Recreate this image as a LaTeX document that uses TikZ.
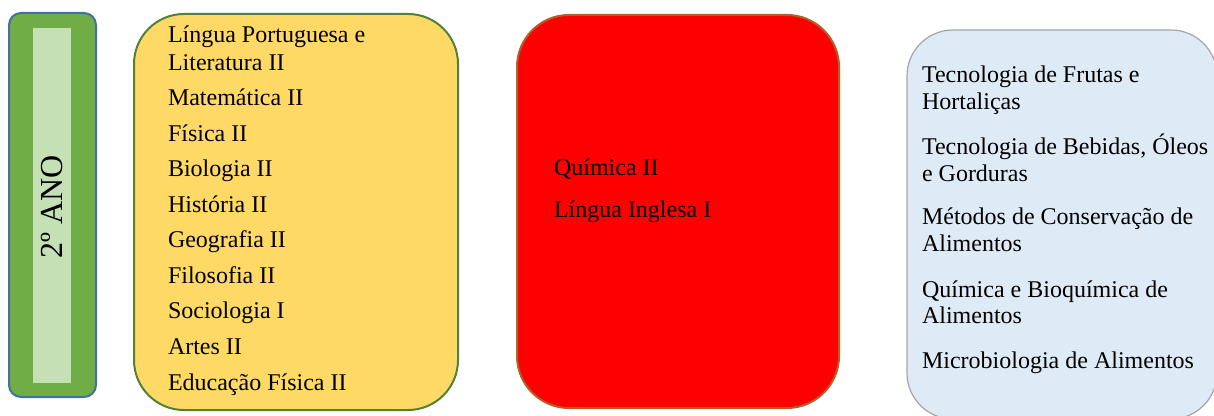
\documentclass[tikz,border=0pt]{standalone}
\usepackage{fontspec}
\setmainfont{Liberation Serif}
\definecolor{gfill}{HTML}{70AD47}
\definecolor{gline}{HTML}{41719C}
\definecolor{ginner}{HTML}{C5E0B4}
\definecolor{yfill}{HTML}{FFD966}
\definecolor{yline}{HTML}{538135}
\definecolor{rfill}{HTML}{FF0000}
\definecolor{rline}{HTML}{B0602A}
\definecolor{bfill}{HTML}{DEEBF7}
\definecolor{bline}{HTML}{A5A5A5}
\begin{document}
\begin{tikzpicture}[x=0.5pt,y=-0.5pt,
  box/.style={rectangle,inner sep=0pt,outer sep=0pt,line width=1pt},
  item/.style={anchor=base west,inner sep=0pt,outer sep=0pt,font=\fontsize{12}{14}\selectfont}]
\useasboundingbox (0,0) rectangle (1214,416);
% boxes
\node[box,draw=gline,fill=gfill,rounded corners=6pt,minimum width=43.5pt,minimum height=192pt] (ano) at (52.5,205) {};
\node[box,fill=ginner,minimum width=18.7pt,minimum height=177.5pt] (anoin) at (52,205.5) {};
\node[rotate=90,inner sep=0pt,font=\fontsize{16}{19}\selectfont] (anolbl) at (52,207) {2º ANO};
\node[box,draw=yline,fill=yfill,rounded corners=25pt,minimum width=162pt,minimum height=198pt] (ybox) at (296,212) {};
\node[box,draw=rline,fill=rfill,rounded corners=26pt,minimum width=161pt,minimum height=196.5pt] (rbox) at (678,211.5) {};
\node[box,draw=bline,fill=bfill,line width=0.6pt,rounded corners=23pt,minimum width=155pt,minimum height=194.5pt] (bbox) at (1062,224.5) {};
% yellow items
\node[item] (y1) at (168,43) {Língua Portuguesa e};
\node[item] (y1b) at (168,71) {Literatura II};
\node[item] (y2) at (168,106) {Matemática II};
\node[item] (y3) at (168,142) {Física II};
\node[item] (y4) at (168,177) {Biologia II};
\node[item] (y5) at (168,213) {História II};
\node[item] (y6) at (168,248) {Geografia II};
\node[item] (y7) at (168,284) {Filosofia II};
\node[item] (y8) at (168,319) {Sociologia I};
\node[item] (y9) at (168,355) {Artes II};
\node[item] (y10) at (168,390) {Educação Física II};
% red items
\node[item] (r1) at (554,176) {Química II};
\node[item] (r2) at (554,218) {Língua Inglesa I};
% blue items
\node[item] (b1) at (922,83) {Tecnologia de Frutas e};
\node[item] (b1b) at (922,110) {Hortaliças};
\node[item] (b2) at (922,155) {Tecnologia de Bebidas, Óleos};
\node[item] (b2b) at (922,182) {e Gorduras};
\node[item] (b3) at (922,225) {Métodos de Conservação de};
\node[item] (b3b) at (922,252) {Alimentos};
\node[item] (b4) at (922,298) {Química e Bioquímica de};
\node[item] (b4b) at (922,324) {Alimentos};
\node[item] (b5) at (922,368) {Microbiologia de Alimentos};
\end{tikzpicture}
\end{document}
